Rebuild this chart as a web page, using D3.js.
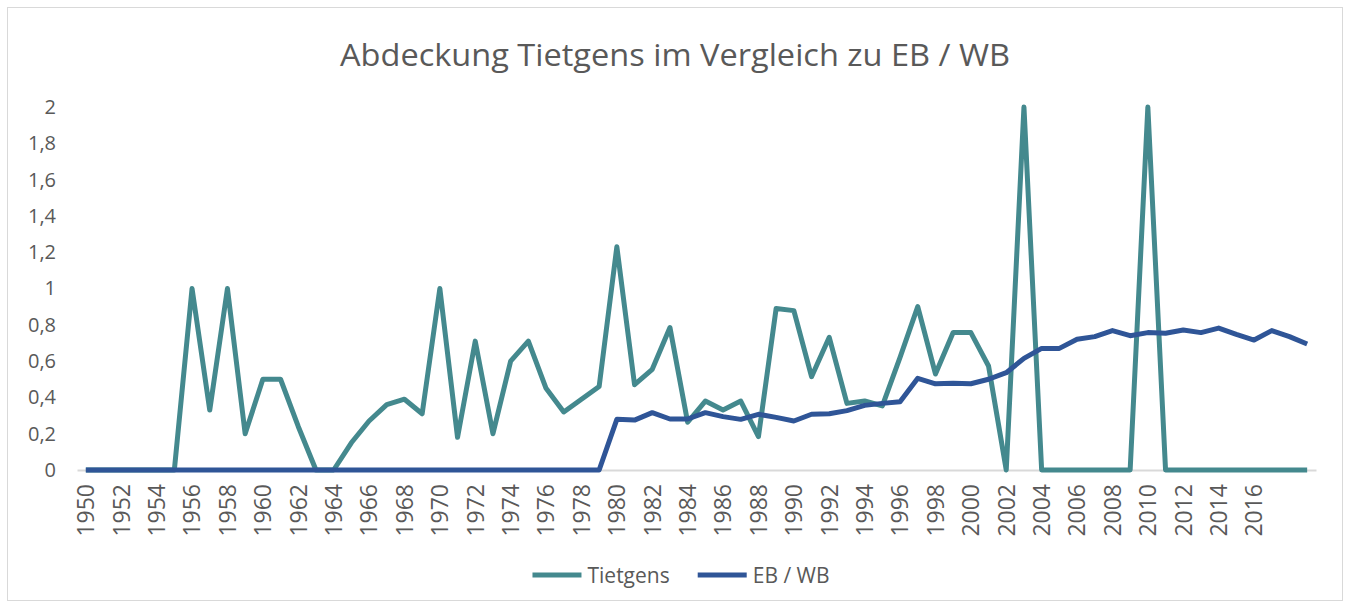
<!DOCTYPE html>
<html>
<head>
    <meta charset="utf-8">
    <script src="https://d3js.org/d3.v7.min.js"></script>
    <style>
        body { margin: 0; background: #fff; }
        text { font-family: "Open Sans", sans-serif; fill: #595959; }
    </style>
</head>
<body>
    <div id="viz"></div>

    <script type="text/javascript">

    // years on the category axis
    var years = d3.range(1950, 2020);

    // labelled years (every second one, as in the original)
    var tickYears = d3.range(1950, 2017, 2);

    var yTicks = [0, 0.2, 0.4, 0.6, 0.8, 1, 1.2, 1.4, 1.6, 1.8, 2];

    var seriesNames = ["Tietgens", "EB / WB"];
    var seriesColors = ["#44898e", "#2f5597"];

    var tietgens = [
        0, 0, 0, 0, 0, 0, 1.0, 0.33, 1.0, 0.2,          // 1950-59
        0.5, 0.5, 0.24, 0, 0, 0.15, 0.27, 0.36, 0.39, 0.31, // 1960-69
        1.0, 0.18, 0.71, 0.2, 0.6, 0.71, 0.45, 0.32, 0.39, 0.46, // 1970-79
        1.23, 0.47, 0.555, 0.785, 0.263, 0.38, 0.331, 0.38, 0.184, 0.89, // 1980-89
        0.878, 0.514, 0.731, 0.367, 0.38, 0.353, 0.62, 0.9, 0.529, 0.757, // 1990-99
        0.757, 0.573, 0, 2.0, 0, 0, 0, 0, 0, 0,         // 2000-09
        2.0, 0, 0, 0, 0, 0, 0, 0, 0, 0                  // 2010-19
    ];

    var ebwb = [
        0, 0, 0, 0, 0, 0, 0, 0, 0, 0,
        0, 0, 0, 0, 0, 0, 0, 0, 0, 0,
        0, 0, 0, 0, 0, 0, 0, 0, 0, 0,
        0.279, 0.275, 0.316, 0.281, 0.281, 0.316, 0.294, 0.279, 0.307, 0.29,
        0.27, 0.307, 0.31, 0.327, 0.356, 0.367, 0.376, 0.505, 0.475, 0.478,
        0.475, 0.5, 0.536, 0.615, 0.67, 0.67, 0.72, 0.735, 0.768, 0.74,
        0.757, 0.753, 0.771, 0.757, 0.782, 0.747, 0.716, 0.768, 0.735, 0.694
    ];

    var width = 1350, height = 608;
    var plot = {left: 77, right: 1316, top: 107, bottom: 470};

    var svg = d3.select("#viz")
        .append("svg")
        .attr("width", width)
        .attr("height", height);

    // chart frame
    svg.append("rect")
        .attr("x", 7.5)
        .attr("y", 7.5)
        .attr("width", 1335)
        .attr("height", 593)
        .style("fill", "#fff")
        .style("stroke", "#d9d9d9");

    svg.append("text")
        .attr("x", width / 2)
        .attr("y", 66)
        .attr("text-anchor", "middle")
        .attr("textLength", 670)
        .attr("lengthAdjust", "spacingAndGlyphs")
        .style("font-size", "31px")
        .text("Abdeckung Tietgens im Vergleich zu EB / WB");

    var x = d3.scaleBand()
        .domain(years)
        .range([plot.left, plot.right]);

    var y = d3.scaleLinear()
        .domain([0, 2])
        .range([plot.bottom, plot.top]);

    var cx = function(yr){ return x(yr) + x.bandwidth() / 2; };

    // y axis labels (no gridlines)
    var yAxis = svg.append("g")
        .attr("transform", "translate(" + (plot.left - 21) + ",0)")
        .call(d3.axisLeft(y)
            .tickValues(yTicks)
            .tickSize(0)
            .tickPadding(0)
            .tickFormat(function(d){ return String(d).replace(".", ","); }));
    yAxis.select(".domain").remove();
    yAxis.selectAll("text")
        .style("font-size", "20px")
        .style("fill", "#595959")
        .style("font-family", "'Open Sans', sans-serif");

    // x axis
    var xAxis = svg.append("g")
        .attr("transform", "translate(0," + plot.bottom + ")")
        .call(d3.axisBottom(x)
            .tickValues(tickYears)
            .tickSize(0)
            .tickPadding(0));
    xAxis.select(".domain")
        .style("stroke", "#d9d9d9")
        .style("stroke-width", 2);
    xAxis.selectAll("text")
        .attr("transform", "rotate(-90)")
        .attr("x", -14)
        .attr("y", 0)
        .attr("dy", "0.36em")
        .attr("text-anchor", "end")
        .style("font-size", "23px")
        .style("fill", "#595959")
        .style("font-family", "'Open Sans', sans-serif");

    var line = d3.line()
        .x(function(d, i){ return cx(years[i]); })
        .y(function(d){ return y(d); });

    [tietgens, ebwb].forEach(function(vals, k){
        svg.append("path")
            .datum(vals)
            .attr("d", line)
            .style("fill", "none")
            .style("stroke", seriesColors[k])
            .style("stroke-width", 5)
            .style("stroke-linejoin", "round")
            .style("stroke-linecap", "butt");
    });

    // legend
    var legend = svg.append("g");
    var lx = 0;
    seriesNames.forEach(function(name, k){
        var g = legend.append("g").attr("transform", "translate(" + lx + ",0)");
        g.append("line")
            .attr("x1", 0).attr("x2", 49)
            .attr("y1", 0).attr("y2", 0)
            .style("stroke", seriesColors[k])
            .style("stroke-width", 5);
        var t = g.append("text")
            .attr("x", 55)
            .attr("y", 0)
            .attr("dy", "0.36em")
            .style("font-size", "21px")
            .text(name);
        lx += 55 + t.node().getComputedTextLength() + 28;
    });
    var lw = lx - 28;
    legend.attr("transform", "translate(" + (681 - lw / 2) + ",575)");

    </script>
</body>
</html>
